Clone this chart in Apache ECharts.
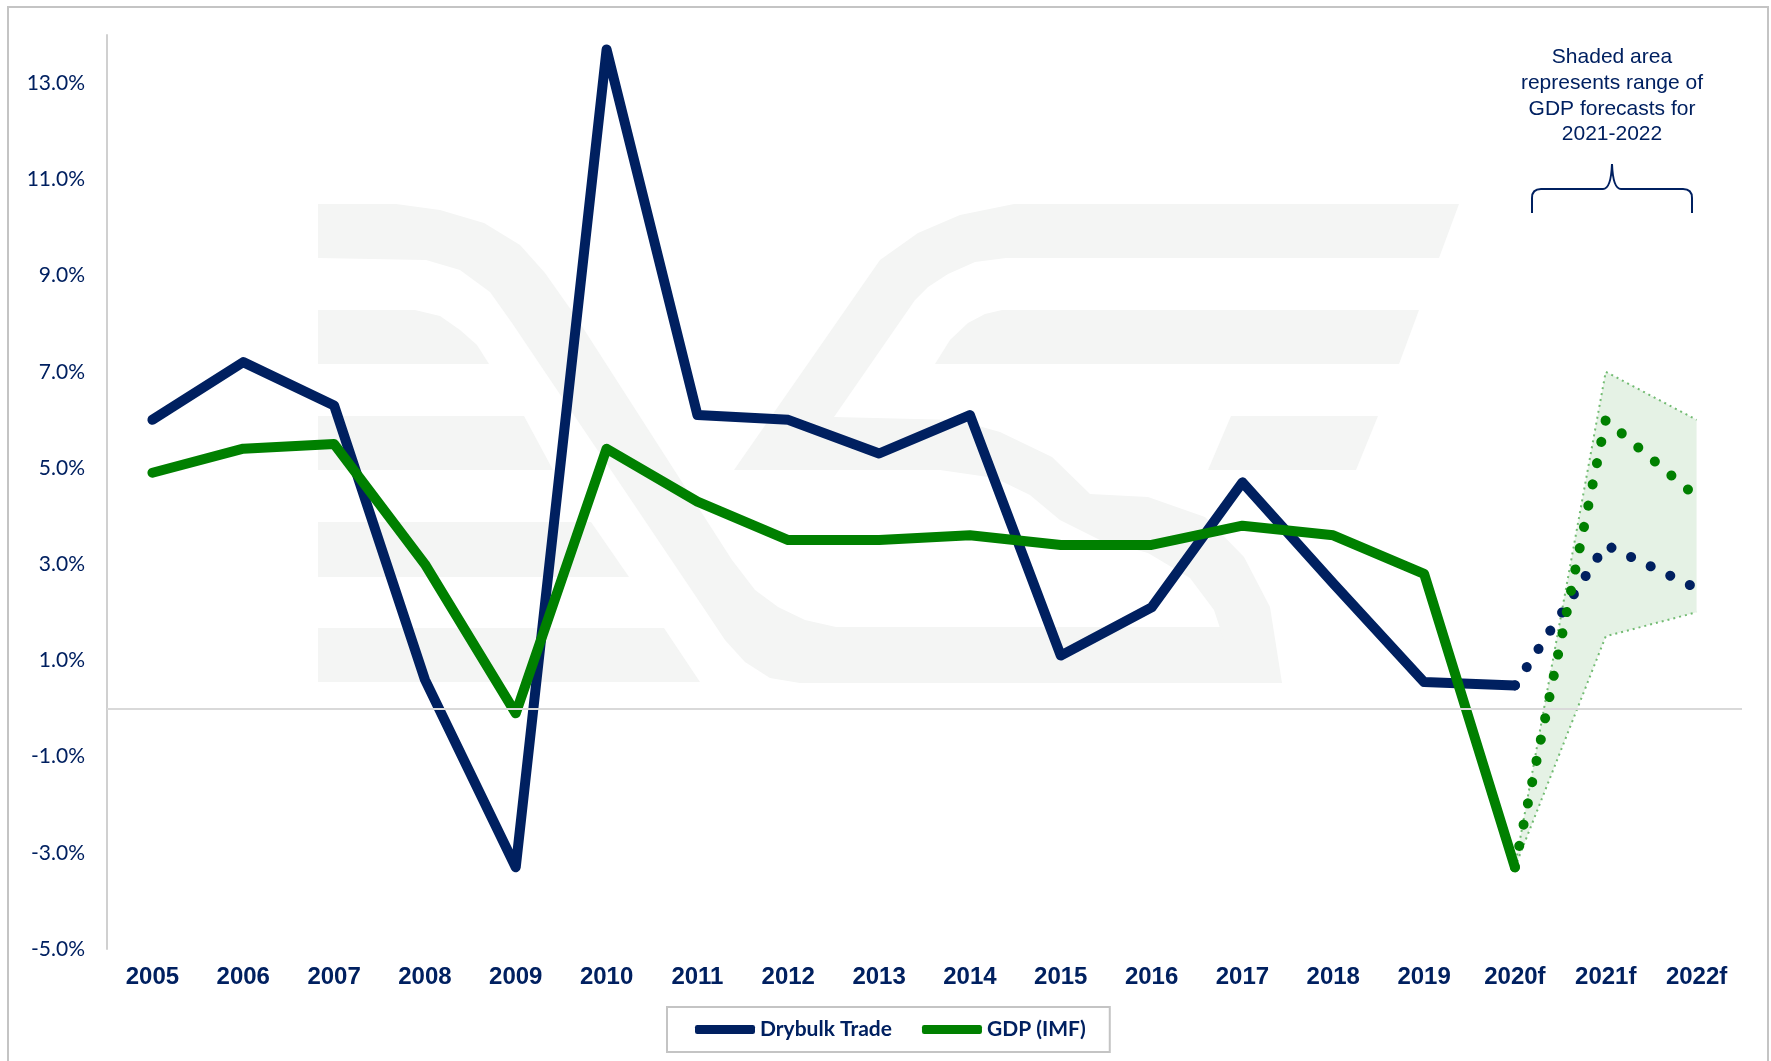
<!DOCTYPE html>
<html><head><meta charset="utf-8">
<script src="https://cdn.jsdelivr.net/npm/echarts@6/dist/echarts.min.js"></script>
<style>html,body{margin:0;padding:0;background:#fff}#c{width:1771px;height:1061px}</style>
</head><body><div id="c"></div>
<script>
// ---- data ----
const categories = ['2005','2006','2007','2008','2009','2010','2011','2012','2013','2014','2015','2016','2017','2018','2019','2020f','2021f','2022f'];
const drybulkTrade = [6.0, 7.2, 6.3, 0.6, -3.3, 13.7, 6.1, 6.0, 5.3, 6.1, 1.1, 2.1, 4.7, 2.6, 0.55, 0.48];
const gdpIMF       = [4.9, 5.4, 5.5, 3.0, -0.1, 5.4, 4.3, 3.5, 3.5, 3.6, 3.4, 3.4, 3.8, 3.6, 2.8, -3.3];
const forecastCategories = ['2020f','2021f','2022f'];
const drybulkForecast = [0.48, 3.4, 2.5];
const gdpForecast     = [-3.3, 6.0, 4.4];
const gdpRangeLow     = [-3.3, 1.5, 2.0];
const gdpRangeHigh    = [-3.3, 7.0, 6.0];
const yMin = -5, yMax = 14;

function onCats(cats, vals) {
  return categories.map(c => { const i = cats.indexOf(c); return i < 0 ? null : vals[i]; });
}
const rangeDiff = gdpRangeHigh.map((v, i) => +(v - gdpRangeLow[i]).toFixed(2));

const NAVY = '#002060', GREEN = '#008000', WM = '#f4f5f4';

const wmPolys = [
  [[318,204],[396,204],[440,210],[484,223],[520,245],[545,273],[576,317],[732,560],[755,590],[778,607],[805,620],[836,627],[1230,627],[1230,683],[800,683],[770,678],[745,662],[725,640],[705,610],[512,323],[490,292],[460,270],[426,260],[318,258]],
  [[318,310],[415,310],[440,316],[460,330],[477,345],[489,364],[318,364]],
  [[318,416],[524,416],[553,470],[318,470]],
  [[318,522],[591,522],[629,577],[318,577]],
  [[318,628],[664,628],[700,682],[318,682]],
  [[1014,204],[1459,204],[1439,258],[1006,258],[975,262],[948,274],[928,287],[915,300],[834,417],[834,470],[734,470],[880,260],[918,233],[960,215]],
  [[834,417],[957,420],[1000,432],[1052,457],[1090,494],[1148,497],[1205,517],[1244,557],[1270,607],[1282,683],[1224,683],[1224,640],[1214,610],[1190,578],[1148,553],[1100,540],[1060,520],[1030,495],[995,478],[940,470],[834,470]],
  [[1002,310],[1419,310],[1399,364],[935,364],[950,340],[968,323],[985,314]],
  [[1231,416],[1378,416],[1356,470],[1208,470]]
];

const graphics = wmPolys.map(p => ({ type: 'polygon', silent: true, z: 0, shape: { points: p }, style: { fill: WM } }));
graphics.push({ type: 'rect', silent: true, z: 20, shape: { x: 8, y: 7, width: 1760, height: 1070 }, style: { fill: 'none', stroke: '#c4c4c4', lineWidth: 2 } });
graphics.push({ type: 'text', silent: true, z: 20, x: 1612, y: 96,
  style: { text: 'Shaded area\nrepresents range of\nGDP forecasts for\n2021-2022', fontFamily: '"Liberation Sans", Arial, sans-serif', fontSize: 21, lineHeight: 25.7, fill: NAVY, align: 'center', verticalAlign: 'middle' } });
// curly brace
const braceStyle = { fill: 'none', stroke: NAVY, lineWidth: 2 };
const braceLines = [[1532,213,1532,198],[1541,189,1603,189],[1621,189,1683,189],[1692,198,1692,213]];
braceLines.forEach(l => graphics.push({ type: 'line', silent: true, z: 20, shape: { x1: l[0], y1: l[1], x2: l[2], y2: l[3] }, style: braceStyle }));
const braceCurves = [[1532,198,1532,189,1541,189],[1603,189,1611,189,1612,164],[1612,164,1613,189,1621,189],[1683,189,1692,189,1692,198]];
braceCurves.forEach(c => graphics.push({ type: 'bezierCurve', silent: true, z: 20, shape: { x1: c[0], y1: c[1], cpx1: c[2], cpy1: c[3], x2: c[4], y2: c[5] }, style: braceStyle }));

const chart = echarts.init(document.getElementById('c'), null, { renderer: 'canvas' });
const dotStyle = (color) => ({ color, width: 10, type: [0.1, 21.6], cap: 'round', join: 'round' });
const bandLine = { color: '#72bb72', width: 2, type: [2, 4] };

chart.setOption({
  animation: false,
  backgroundColor: '#ffffff',
  grid: { left: 107, right: 29, top: 35, bottom: 112, containLabel: false },
  graphic: graphics,
  legend: {
    data: ['Drybulk Trade', 'GDP (IMF)'],
    left: 667, top: 1007,
    padding: [12, 24, 12, 28],
    itemGap: 30, itemWidth: 60, itemHeight: 9, icon: 'roundRect',
    borderColor: '#c4c4c4', borderWidth: 2,
    textStyle: { fontFamily: 'Lato, "Noto Sans", sans-serif', fontWeight: 'bold', fontSize: 21, color: NAVY }
  },
  xAxis: {
    type: 'category', data: categories, boundaryGap: true,
    axisLine: { show: false }, axisTick: { show: false }, splitLine: { show: false },
    axisLabel: { margin: 16, fontFamily: '"Liberation Sans", Arial, sans-serif', fontWeight: 'bold', fontSize: 24, color: NAVY, interval: 0 }
  },
  yAxis: {
    type: 'value', min: yMin, max: yMax, interval: 1,
    axisLine: { show: true, lineStyle: { color: '#d0d0d0', width: 2 } },
    axisTick: { show: false }, splitLine: { show: false },
    axisLabel: { margin: 22, fontFamily: 'Lato, "Noto Sans", sans-serif', fontSize: 21, color: NAVY,
      formatter: v => (Math.abs(Math.round(v)) % 2 === 1 ? v.toFixed(1) + '%' : '') }
  },
  series: [
    { name: 'rangeLow', type: 'line', data: onCats(forecastCategories, gdpRangeLow), stack: 'band', stackStrategy: 'all',
      showSymbol: false, symbol: 'none', silent: true, lineStyle: bandLine, z: 1,
      markLine: { silent: true, symbol: 'none', label: { show: false }, lineStyle: { color: '#d9d9d9', width: 2, type: 'solid' }, data: [{ yAxis: 0 }] } },
    { name: 'rangeHigh', type: 'line', data: onCats(forecastCategories, rangeDiff), stack: 'band', stackStrategy: 'all',
      showSymbol: false, symbol: 'none', silent: true, lineStyle: bandLine, areaStyle: { color: 'rgba(0,128,0,0.10)', opacity: 1 }, z: 1 },
    { name: 'Drybulk Trade', type: 'line', data: drybulkTrade, color: NAVY, showSymbol: false, symbol: 'none',
      lineStyle: { color: NAVY, width: 10, cap: 'round', join: 'round' }, z: 3 },
    { name: 'GDP (IMF)', type: 'line', data: gdpIMF, color: GREEN, showSymbol: false, symbol: 'none',
      lineStyle: { color: GREEN, width: 10, cap: 'round', join: 'round' }, z: 3 },
    { name: 'Drybulk forecast', type: 'line', data: onCats(forecastCategories, drybulkForecast), color: NAVY, showSymbol: false, symbol: 'none',
      lineStyle: dotStyle(NAVY), z: 3 },
    { name: 'GDP forecast', type: 'line', data: onCats(forecastCategories, gdpForecast), color: GREEN, showSymbol: false, symbol: 'none',
      lineStyle: dotStyle(GREEN), z: 3 }
  ]
});
</script>
</body></html>
